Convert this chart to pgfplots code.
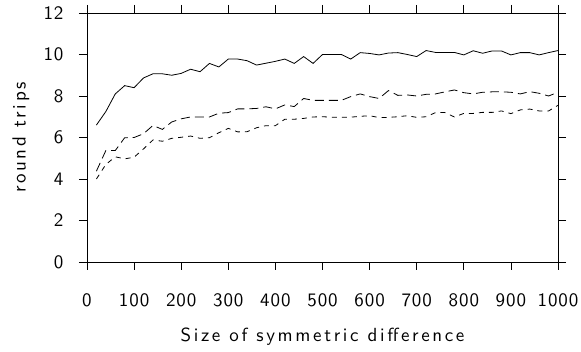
\documentclass[border=0pt]{standalone}
\usepackage{pgfplots}
\pgfplotsset{compat=1.18}
\usepackage{fontspec}
\newfontfamily\lsffam{lmsans10-regular.otf}[LetterSpace=14]
\newfontfamily\tsffam{lmsans10-regular.otf}[LetterSpace=5]
\newcommand\lsf{\fontsize{19}{22}\selectfont\lsffam}
\newcommand\tsf{\fontsize{19}{22}\selectfont\tsffam}
\begin{document}
\begin{tikzpicture}[font=\lsf]
\path[use as bounding box] (-87pt,-90pt) rectangle (494pt,262pt);
\begin{axis}[
  scale only axis, width=471pt, height=249pt,
  xmin=0, xmax=1000, ymin=0, ymax=12,
  xtick={0,100,...,1000}, ytick={0,2,...,12},
  /pgf/number format/assume math mode=true,
  /pgf/number format/1000 sep={},
  tick align=outside, major tick length=8pt,
  axis line style={line width=0.8pt}, every tick/.style={line width=0.8pt, black},
  tick label style={font=\tsf},
  xticklabel style={yshift=-20pt},
  yticklabel style={xshift=-12pt},
  xlabel={Size of symmetric difference},
  ylabel={round trips},
  every axis x label/.style={at={(axis description cs:0.5,0)}, anchor=base, yshift=-80pt},
  every axis y label/.style={at={(axis description cs:0,0.5)}, anchor=center, rotate=90, yshift=66pt},
  clip=false,
]
\addplot[black, line width=0.8pt] coordinates {
(20,6.6)(40,7.25)(60,8.1)(80,8.5)(100,8.4)(120,8.87)(140,9.07)(160,9.07)(180,9.0)(200,9.09)
(220,9.29)(240,9.17)(260,9.57)(280,9.4)(300,9.78)(320,9.78)(340,9.7)(360,9.49)(380,9.58)(400,9.67)
(420,9.78)(440,9.57)(460,9.9)(480,9.57)(500,10.0)(520,10.0)(540,10.0)(560,9.78)(580,10.09)(600,10.05)
(620,9.98)(640,10.07)(660,10.09)(680,10.0)(700,9.9)(720,10.19)(740,10.1)(760,10.1)(780,10.1)(800,9.98)
(820,10.18)(840,10.06)(860,10.17)(880,10.17)(900,9.98)(920,10.09)(940,10.09)(960,9.98)(980,10.09)(1000,10.19)
};
\addplot[black, line width=0.8pt, dash pattern=on 9pt off 5pt] coordinates {
(20,4.38)(40,5.37)(60,5.37)(80,5.99)(100,6.0)(120,6.18)(140,6.58)(160,6.39)(180,6.75)(200,6.9)
(220,6.99)(240,6.99)(260,6.99)(280,7.17)(300,7.2)(320,7.38)(340,7.38)(360,7.4)(380,7.48)(400,7.38)
(420,7.57)(440,7.49)(460,7.88)(480,7.79)(500,7.79)(520,7.79)(540,7.79)(560,7.97)(580,8.1)(600,7.97)
(620,7.88)(640,8.26)(660,8.03)(680,8.05)(700,8.0)(720,8.08)(740,8.1)(760,8.2)(780,8.29)(800,8.16)
(820,8.1)(840,8.18)(860,8.2)(880,8.2)(900,8.18)(920,8.1)(940,8.21)(960,8.13)(980,8.0)(1000,8.18)
};
\addplot[black, line width=0.8pt, dash pattern=on 5pt off 5pt] coordinates {
(20,4.0)(40,4.7)(60,5.07)(80,4.97)(100,5.05)(120,5.45)(140,5.88)(160,5.82)(180,5.96)(200,6.01)
(220,6.07)(240,5.96)(260,5.99)(280,6.23)(300,6.44)(320,6.27)(340,6.28)(360,6.47)(380,6.57)(400,6.57)
(420,6.88)(440,6.88)(460,6.92)(480,6.99)(500,7.0)(520,6.98)(540,6.98)(560,6.98)(580,7.02)(600,7.05)
(620,6.96)(640,6.97)(660,7.0)(680,7.05)(700,6.97)(720,7.0)(740,7.2)(760,7.2)(780,6.99)(800,7.16)
(820,7.16)(840,7.21)(860,7.21)(880,7.28)(900,7.15)(920,7.33)(940,7.37)(960,7.28)(980,7.28)(1000,7.55)
};
\end{axis}
\end{tikzpicture}
\end{document}
